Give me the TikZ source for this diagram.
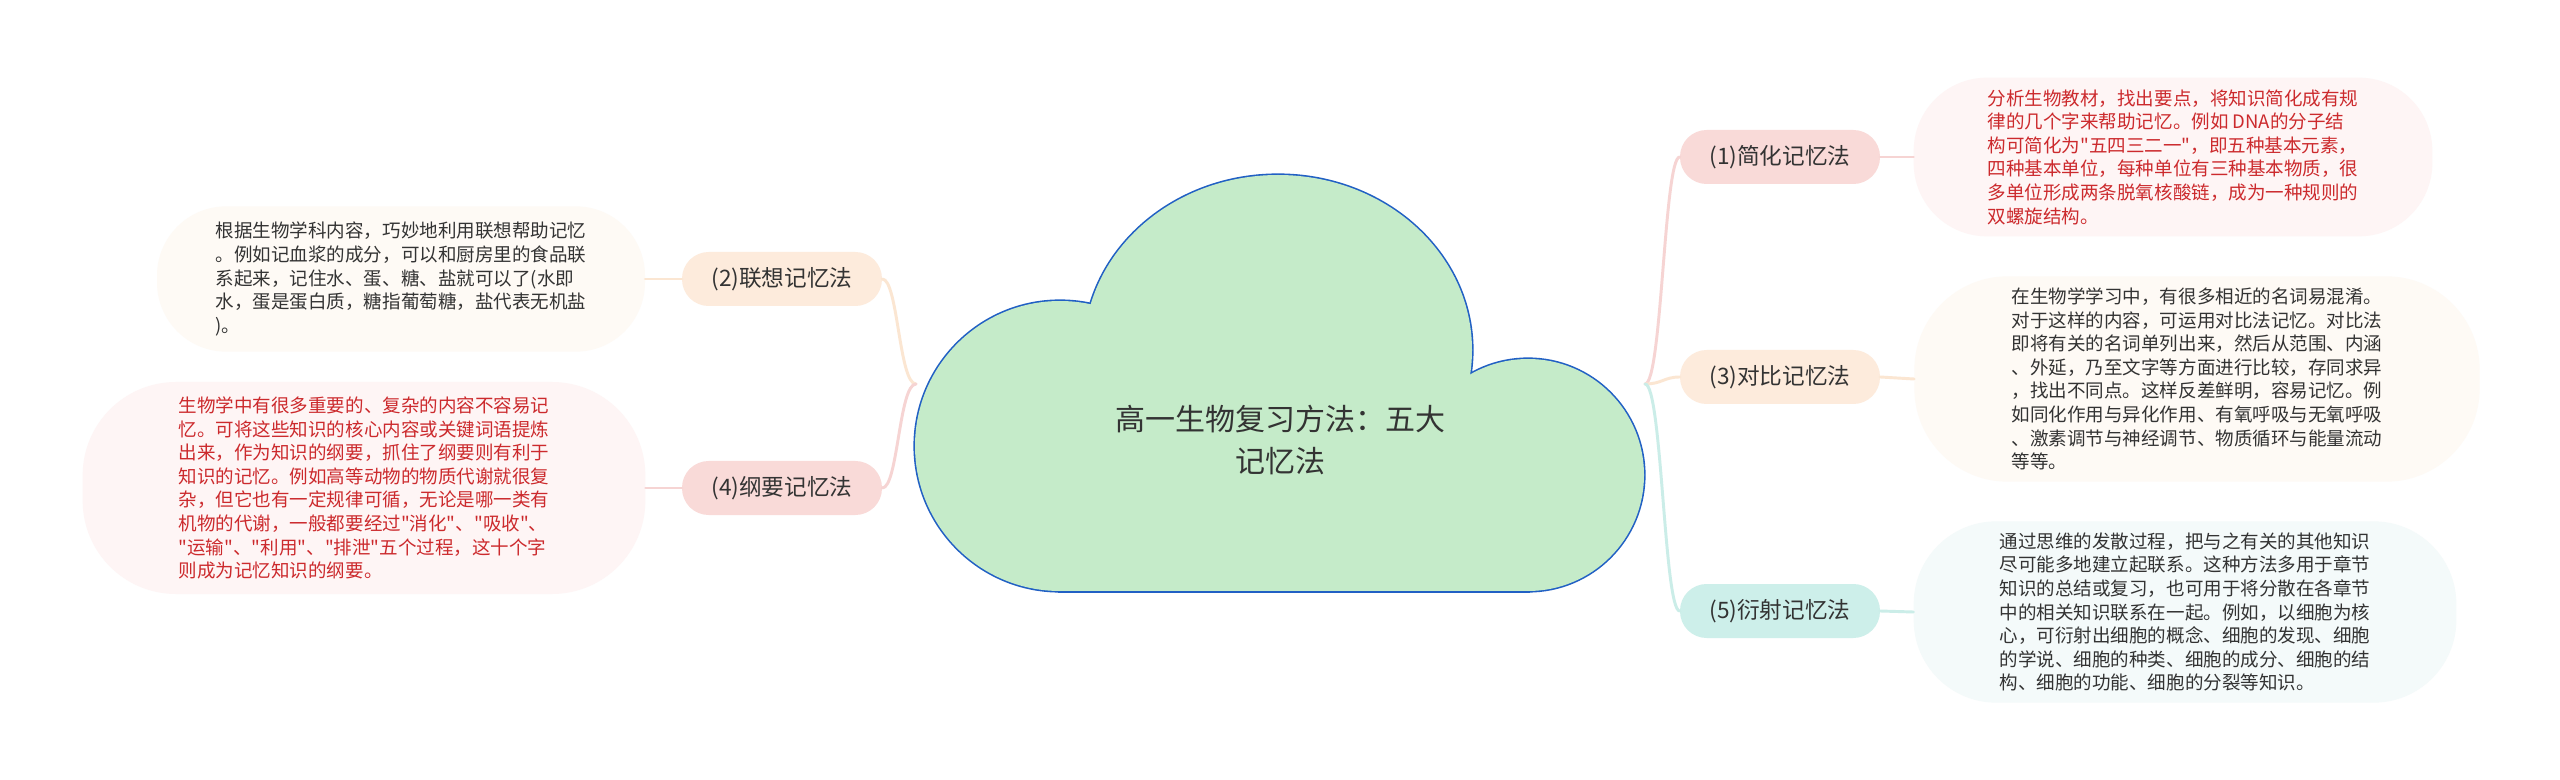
\documentclass[tikz,border=0pt]{standalone}
\usepackage{fontspec}
\setmainfont{Noto Sans CJK SC}[Ligatures=TeXOff]
\definecolor{cloudfill}{HTML}{C5EBC9}
\definecolor{cloudedge}{HTML}{2160C4}
\definecolor{pinkpill}{HTML}{F9DAD8}
\definecolor{peachpill}{HTML}{FDEBDC}
\definecolor{mintpill}{HTML}{CDEFEA}
\definecolor{pinkline}{HTML}{F6D4D3}
\definecolor{peachline}{HTML}{FBE6D2}
\definecolor{mintline}{HTML}{CBEDE8}
\definecolor{pinkbub}{HTML}{FEF5F5}
\definecolor{peachbub}{HTML}{FEFAF5}
\definecolor{mintbub}{HTML}{F4FAFA}
\definecolor{redtext}{HTML}{CC2A2D}
\definecolor{darktext}{HTML}{333333}
\begin{document}
\begin{tikzpicture}[x=0.75pt,y=-0.75pt,
  cloudline/.style={draw=cloudedge,line width=2.4pt},
  cloudbody/.style={fill=cloudfill},
  pill/.style={rectangle,rounded corners=20pt,minimum width=150pt,minimum height=40.5pt,
    inner sep=0pt,text=darktext,font=\fontsize{17pt}{21pt}\selectfont},
  bubble/.style={rectangle,inner sep=0pt,align=left,
    font=\fontsize{13.9pt}{17.7pt}\selectfont},
  conn/.style={line width=2.2pt,line cap=round}]
\useasboundingbox (0,0) rectangle (2560,780);
\fill[white] (0,0) rectangle (2560,780);
% cloud: outline by stroking the union, then filling it
\draw[cloudline] (1060,446) circle[radius=145];
\draw[cloudline] (1278,350) ellipse[x radius=194,y radius=175];
\draw[cloudline] (1528,475) circle[radius=116];
\draw[cloudline] (1060,446) rectangle (1528,591);
\fill[cloudbody] (1060,446) circle[radius=145];
\fill[cloudbody] (1278,350) ellipse[x radius=194,y radius=175];
\fill[cloudbody] (1528,475) circle[radius=116];
\fill[cloudbody] (1060,446) rectangle (1528,591);
\node[align=center,text=darktext,font=\fontsize{22.5pt}{31.5pt}\selectfont] (root) at (1280,440)
  {高一生物复习方法：五大\\记忆法};
\coordinate (jL) at (916,384);
\coordinate (jR) at (1645,384);
% right side
\node[pill,fill=pinkpill] (p1) at (1780,157) {(1)简化记忆法};
\node[pill,fill=peachpill] (p3) at (1780,377) {(3)对比记忆法};
\node[pill,fill=mintpill] (p5) at (1780,611) {(5)衍射记忆法};
\node[bubble,fill=pinkbub,text=redtext,rounded corners=55pt,minimum width=389pt,minimum height=119pt] (b1) at (2173,157)
 {分析生物教材，找出要点，将知识简化成有规\\
  律的几个字来帮助记忆。例如 DNA的分子结\\
  构可简化为"五四三二一"，即五种基本元素，\\
  四种基本单位，每种单位有三种基本物质，很\\
  多单位形成两条脱氧核酸链，成为一种规则的\\
  双螺旋结构。};
\node[bubble,fill=peachbub,text=darktext,rounded corners=70pt,minimum width=424pt,minimum height=154pt] (b3) at (2197,379)
 {在生物学学习中，有很多相近的名词易混淆。\\
  对于这样的内容，可运用对比法记忆。对比法\\
  即将有关的名词单列出来，然后从范围、内涵\\
  、外延，乃至文字等方面进行比较，存同求异\\
  ，找出不同点。这样反差鲜明，容易记忆。例\\
  如同化作用与异化作用、有氧呼吸与无氧呼吸\\
  、激素调节与神经调节、物质循环与能量流动\\
  等等。};
\node[bubble,fill=mintbub,text=darktext,rounded corners=62pt,minimum width=407pt,minimum height=136pt] (b5) at (2185,612)
 {通过思维的发散过程，把与之有关的其他知识\\
  尽可能多地建立起联系。这种方法多用于章节\\
  知识的总结或复习，也可用于将分散在各章节\\
  中的相关知识联系在一起。例如，以细胞为核\\
  心，可衍射出细胞的概念、细胞的发现、细胞\\
  的学说、细胞的种类、细胞的成分、细胞的结\\
  构、细胞的功能、细胞的分裂等知识。};
% left side
\node[pill,fill=peachpill] (p2) at (782,279) {(2)联想记忆法};
\node[pill,fill=pinkpill] (p4) at (782,488) {(4)纲要记忆法};
\node[bubble,fill=peachbub,text=darktext,rounded corners=52pt,minimum width=366pt,minimum height=109pt] (b2) at (401,279)
 {根据生物学科内容，巧妙地利用联想帮助记忆\\
  。例如记血浆的成分，可以和厨房里的食品联\\
  系起来，记住水、蛋、糖、盐就可以了(水即\\
  水，蛋是蛋白质，糖指葡萄糖，盐代表无机盐\\
  )。};
\node[bubble,fill=pinkbub,text=redtext,rounded corners=70pt,minimum width=422pt,minimum height=159pt] (b4) at (364,488)
 {生物学中有很多重要的、复杂的内容不容易记\\
  忆。可将这些知识的核心内容或关键词语提炼\\
  出来，作为知识的纲要，抓住了纲要则有利于\\
  知识的记忆。例如高等动物的物质代谢就很复\\
  杂，但它也有一定规律可循，无论是哪一类有\\
  机物的代谢，一般都要经过"消化"、"吸收"、\\
  "运输"、"利用"、"排泄"五个过程，这十个字\\
  则成为记忆知识的纲要。};
% connectors
\draw[conn,pinkline] (jR) .. controls (1662,384) and (1664,157) .. (p1.west);
\draw[conn,peachline] (jR) .. controls (1662,384) and (1664,377) .. (p3.west);
\draw[conn,mintline] (jR) .. controls (1662,384) and (1664,611) .. (p5.west);
\draw[conn,peachline] (jL) .. controls (899,384) and (898,279) .. (p2.east);
\draw[conn,pinkline] (jL) .. controls (899,384) and (898,488) .. (p4.east);
\draw[conn,pinkline] (p1.east) -- (b1.west);
\draw[conn,peachline] (p3.east) -- (b3.west);
\draw[conn,mintline] (p5.east) -- (b5.west);
\draw[conn,peachline] (p2.west) -- (b2.east);
\draw[conn,pinkline] (p4.west) -- (b4.east);
\end{tikzpicture}
\end{document}
